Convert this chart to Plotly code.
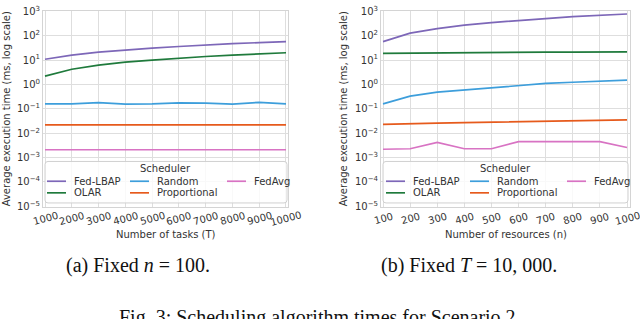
import plotly.graph_objects as go

# ---------------- data ----------------
tasks = [1000, 2000, 3000, 4000, 5000, 6000, 7000, 8000, 9000, 10000]
resources = [100, 200, 300, 400, 500, 600, 700, 800, 900, 1000]
tasks_labels = [str(v) for v in tasks]
resources_labels = [str(v) for v in resources]

series_names = ["Fed-LBAP", "OLAR", "Random", "Proportional", "FedAvg"]

# (a) fixed n = 100, varying T
a_fedlbap = [10.8, 16, 21, 26, 31, 36, 42, 47, 52, 57]
a_olar = [2.2, 4.2, 6.2, 8.2, 10, 12, 14, 16, 18, 20]
a_random = [0.16, 0.16, 0.18, 0.155, 0.16, 0.175, 0.17, 0.155, 0.185, 0.16]
a_prop = [0.022, 0.022, 0.022, 0.022, 0.022, 0.022, 0.022, 0.022, 0.022, 0.022]
a_fedavg = [0.0021, 0.0021, 0.0021, 0.0021, 0.0021, 0.0021, 0.0021, 0.0021, 0.0021, 0.0021]

# (b) fixed T = 10,000, varying n
b_fedlbap = [57, 127, 195, 270, 345, 430, 505, 610, 695, 775]
b_olar = [19, 19.5, 19.5, 20, 20, 20.5, 21, 21, 21.5, 21.5]
b_random = [0.16, 0.33, 0.48, 0.59, 0.76, 0.91, 1.1, 1.23, 1.35, 1.5]
b_prop = [0.023, 0.025, 0.026, 0.027, 0.028, 0.029, 0.031, 0.033, 0.034, 0.035]
b_fedavg = [0.0022, 0.0023, 0.0042, 0.0023, 0.0023, 0.0045, 0.0045, 0.0045, 0.0045, 0.0026]

ytick_vals = [1e-5, 1e-4, 1e-3, 1e-2, 1e-1, 1e0, 1e1, 1e2, 1e3]
ytick_text = ["10<sup>−5</sup>", "10<sup>−4</sup>", "10<sup>−3</sup>", "10<sup>−2</sup>",
              "10<sup>−1</sup>", "10<sup>0</sup>", "10<sup>1</sup>", "10<sup>2</sup>", "10<sup>3</sup>"]

legend_title = "Scheduler"
# legend layout: columns (matplotlib ncol=3, column-major)
legend_columns = [["Fed-LBAP", "OLAR"], ["Random", "Proportional"], ["FedAvg"]]

colors = {"Fed-LBAP": "#7d67b8", "OLAR": "#1f7a3c", "Random": "#3d9edb",
          "Proportional": "#e65a1c", "FedAvg": "#d873c3"}

a_data = dict(zip(series_names, [a_fedlbap, a_olar, a_random, a_prop, a_fedavg]))
b_data = dict(zip(series_names, [b_fedlbap, b_olar, b_random, b_prop, b_fedavg]))

W, H = 640, 319
def px_x(p):
    return p / W
def px_y(p):
    return 1 - p / H

fig = go.Figure()
for name in series_names:
    fig.add_trace(go.Scatter(x=tasks, y=a_data[name], mode="lines", name=name,
                             line=dict(color=colors[name], width=1.7), showlegend=False,
                             xaxis="x", yaxis="y"))
for name in series_names:
    fig.add_trace(go.Scatter(x=resources, y=b_data[name], mode="lines", name=name,
                             line=dict(color=colors[name], width=1.7), showlegend=False,
                             xaxis="x2", yaxis="y2"))

grid = "#dedede"
txtcol = "#333333"
tickfont = dict(family="DejaVu Sans", size=10, color=txtcol)
axis_common = dict(showgrid=True, gridcolor=grid, gridwidth=1, showline=True,
                   linecolor="#d4d4d4", linewidth=1, mirror=True, ticks="",
                   tickfont=tickfont, zeroline=False, ticklabeloverflow="allow")

fig.update_layout(
    width=W, height=H,
    margin=dict(l=0, r=0, t=0, b=0),
    paper_bgcolor="white", plot_bgcolor="white",
    showlegend=False,
    xaxis=dict(domain=[px_x(43), px_x(288)], range=[925, 10075], tickvals=tasks,
               showticklabels=False, anchor="y", **axis_common),
    yaxis=dict(domain=[px_y(208), px_y(5)], type="log", range=[-5.02, 3.02],
               tickvals=ytick_vals, ticktext=ytick_text, anchor="x", **axis_common),
    xaxis2=dict(domain=[px_x(381), px_x(630)], range=[92.6, 1011], tickvals=resources,
                showticklabels=False, anchor="y2", **axis_common),
    yaxis2=dict(domain=[px_y(208), px_y(5)], type="log", range=[-5.02, 3.02],
                tickvals=ytick_vals, ticktext=ytick_text, anchor="x2", **axis_common),
)

# rotated, centred x tick labels (matplotlib style)
for vals, labels, xr in [(tasks, tasks_labels, "x"), (resources, resources_labels, "x2")]:
    for v, lab in zip(vals, labels):
        fig.add_annotation(text=lab, x=v, y=px_y(220), xref=xr, yref="paper",
                           showarrow=False, textangle=-15, xanchor="center", yanchor="middle",
                           font=tickfont)

# legends (box + entries)
def rounded_rect(x0, y0, x1, y1, r=3):
    X = lambda p: px_x(p)
    Y = lambda p: px_y(p)
    return (f"M {X(x0 + r)},{Y(y0)} L {X(x1 - r)},{Y(y0)} Q {X(x1)},{Y(y0)} {X(x1)},{Y(y0 + r)} "
            f"L {X(x1)},{Y(y1 - r)} Q {X(x1)},{Y(y1)} {X(x1 - r)},{Y(y1)} "
            f"L {X(x0 + r)},{Y(y1)} Q {X(x0)},{Y(y1)} {X(x0)},{Y(y1 - r)} "
            f"L {X(x0)},{Y(y0 + r)} Q {X(x0)},{Y(y0)} {X(x0 + r)},{Y(y0)} Z")

legend_specs = [
    dict(box=(45, 161, 287, 204), title_x=165.5, cols=[47, 130, 227]),
    dict(box=(383, 161, 628, 204), title_x=505.5, cols=[386, 470, 567]),
]
row_y = [181.5, 193.5]
for spec in legend_specs:
    bx0, by0, bx1, by1 = spec["box"]
    fig.add_shape(type="path", path=rounded_rect(bx0, by0, bx1, by1), xref="paper", yref="paper",
                  line=dict(color="#d0d0d0", width=1), fillcolor="rgba(255,255,255,0.8)",
                  layer="above")
    fig.add_annotation(text=legend_title, x=px_x(spec["title_x"]), y=px_y(168), xref="paper",
                       yref="paper", showarrow=False, xanchor="center", yanchor="middle",
                       font=dict(family="DejaVu Sans", size=10, color=txtcol))
    for cx, col in zip(spec["cols"], legend_columns):
        for ry, name in zip(row_y, col):
            fig.add_shape(type="line", xref="paper", yref="paper",
                          x0=px_x(cx), x1=px_x(cx + 19), y0=px_y(ry), y1=px_y(ry),
                          line=dict(color=colors[name], width=1.7), layer="above")
            fig.add_annotation(text=name, x=px_x(cx + 25), y=px_y(ry), xref="paper",
                               yref="paper", showarrow=False, xanchor="left", yanchor="middle",
                               font=dict(family="DejaVu Sans", size=10, color=txtcol))

title_font = dict(family="DejaVu Sans", size=10, color=txtcol)
ann = [
    dict(text="Number of tasks (T)", x=px_x(165.5), y=px_y(237)),
    dict(text="Number of resources (n)", x=px_x(505.5), y=px_y(237)),
    dict(text="Average execution time (ms, log scale)", x=px_x(6), y=px_y(107), textangle=-90),
    dict(text="Average execution time (ms, log scale)", x=px_x(343), y=px_y(107), textangle=-90),
]
for a in ann:
    fig.add_annotation(xref="paper", yref="paper", showarrow=False, xanchor="center",
                       yanchor="middle", font=title_font, **a)

cap_font = dict(family="Liberation Serif", size=20, color="#111111")
fig.add_annotation(text="(a) Fixed <i>n</i> = 100.", x=px_x(138), y=px_y(269), xref="paper",
                   yref="paper", showarrow=False, font=cap_font, xanchor="center", yanchor="middle")
fig.add_annotation(text="(b) Fixed <i>T</i> = 10, 000.", x=px_x(469), y=px_y(269), xref="paper",
                   yref="paper", showarrow=False, font=cap_font, xanchor="center", yanchor="middle")
fig.add_annotation(text="Fig. 3: Scheduling algorithm times for Scenario 2.", x=px_x(320),
                   y=px_y(322.5), xref="paper", yref="paper", showarrow=False, font=cap_font,
                   xanchor="center", yanchor="middle")

# remove the default 8px page margin so the figure fills the 640x319 window exactly
fig.write_html("out.html", config={"displayModeBar": False},
               post_script="document.body.style.margin='0px';")
